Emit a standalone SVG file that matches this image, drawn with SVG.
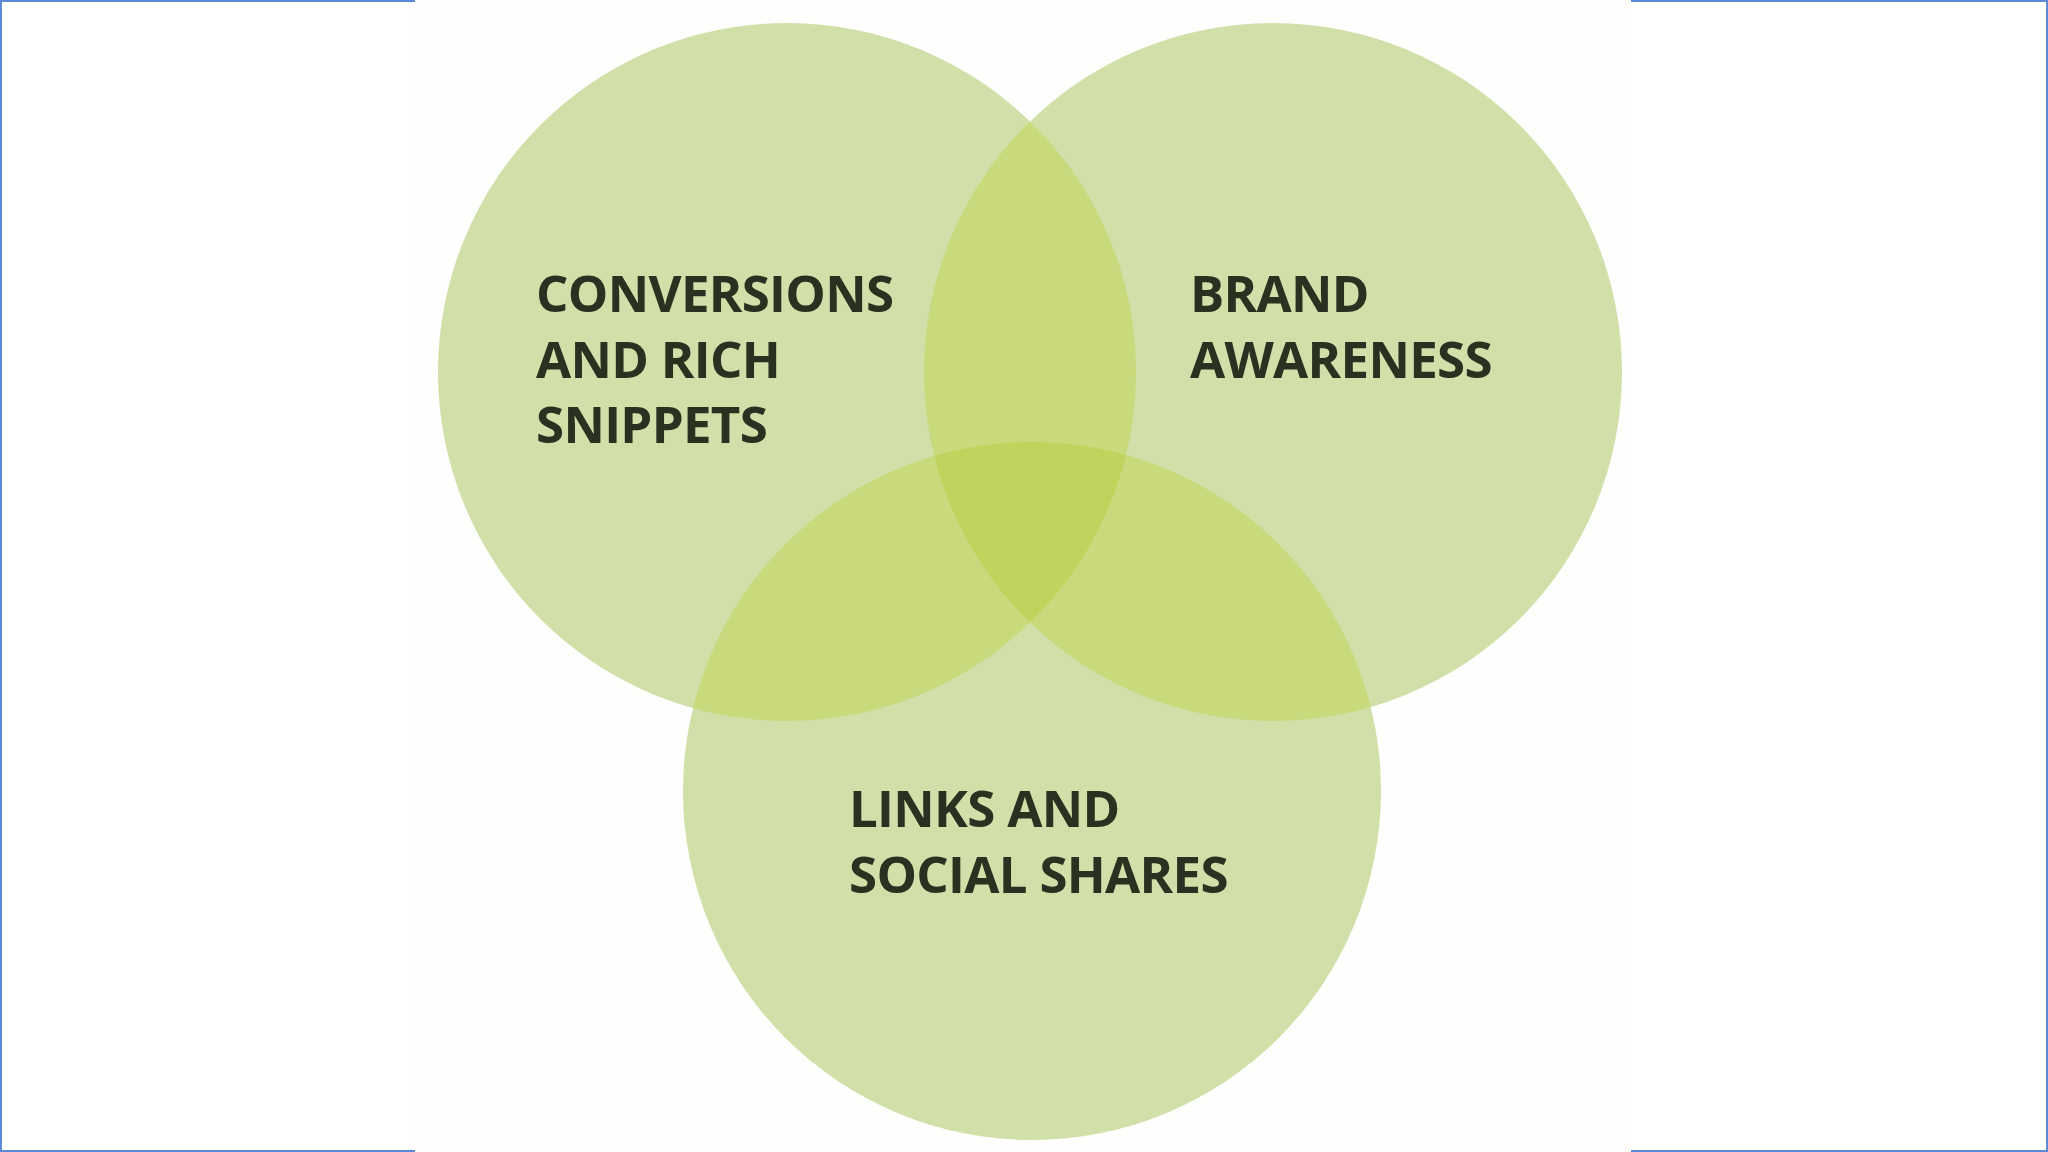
<svg xmlns="http://www.w3.org/2000/svg" width="2048" height="1152" viewBox="0 0 2048 1152">
  <style>
    .circle { fill: #d1dfa9; }
    .pair { fill: #c8da7c; }
    .triple { fill: #c0d35c; }
    .label { font-family: "Open Sans", "Noto Sans", "Liberation Sans", sans-serif; font-weight: 700; font-size: 51px; letter-spacing: -0.7px; fill: #2b3120; }
    .frame { fill: none; stroke: #5b8bd6; stroke-width: 2; }
  </style>
  <defs>
    <clipPath id="clipL"><circle cx="787" cy="372" r="349"/></clipPath>
    <clipPath id="clipR"><circle cx="1273" cy="372" r="349"/></clipPath>
    <clipPath id="clipB"><circle cx="1032" cy="791" r="349"/></clipPath>
  </defs>
  <rect x="0" y="0" width="2048" height="1152" fill="#ffffff"/>
  <rect class="frame" x="1" y="1" width="2046" height="1150"/>
  <rect x="415" y="0" width="1216" height="1152" fill="#fefefd"/>

  <g id="node-conversions">
    <circle class="circle" cx="787" cy="372" r="349"/>
  </g>
  <g id="node-brand">
    <circle class="circle" cx="1273" cy="372" r="349"/>
  </g>
  <g id="node-links">
    <circle class="circle" cx="1032" cy="791" r="349"/>
  </g>

  <g id="overlaps">
    <circle class="pair" cx="1273" cy="372" r="349" clip-path="url(#clipL)"/>
    <circle class="pair" cx="1032" cy="791" r="349" clip-path="url(#clipL)"/>
    <circle class="pair" cx="1032" cy="791" r="349" clip-path="url(#clipR)"/>
    <g clip-path="url(#clipR)">
      <circle class="triple" cx="1032" cy="791" r="349" clip-path="url(#clipL)"/>
    </g>
  </g>

  <g id="labels">
    <text class="label" id="label-conversions" x="536">
      <tspan x="536" y="312">CONVERSIONS</tspan>
      <tspan x="536" y="377.5">AND RICH</tspan>
      <tspan x="536" y="443">SNIPPETS</tspan>
    </text>
    <text class="label" id="label-brand" x="1190">
      <tspan x="1190" y="312">BRAND</tspan>
      <tspan x="1190" y="377.5">AWARENESS</tspan>
    </text>
    <text class="label" id="label-links" x="849">
      <tspan x="849" y="827">LINKS AND</tspan>
      <tspan x="849" y="893">SOCIAL SHARES</tspan>
    </text>
  </g>
</svg>
